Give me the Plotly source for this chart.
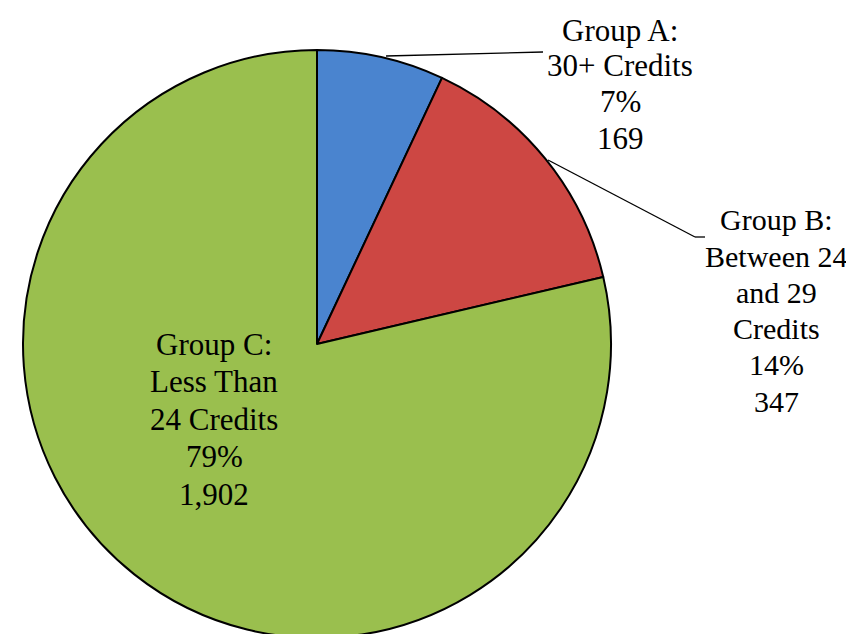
import plotly.graph_objects as go

# data
group_lines = [
    ["Group A:", "30+ Credits"],
    ["Group B:", "Between 24", "and 29", "Credits"],
    ["Group C:", "Less Than", "24 Credits"],
]
counts = [169, 347, 1902]
pct_labels = ["7%", "14%", "79%"]
count_labels = ["169", "347", "1,902"]
colors = ["#4A84CF", "#CD4743", "#9ABF4E"]

W, H = 854, 634


def px(x, y):
    return x / W, 1 - y / H


fig = go.Figure()
fig.add_trace(go.Pie(
    values=counts,
    labels=["A", "B", "C"],
    sort=False,
    direction="clockwise",
    rotation=0,
    textinfo="none",
    hoverinfo="skip",
    marker=dict(colors=colors, line=dict(color="black", width=2)),
    domain=dict(x=[15 / W, 603 / W], y=[4 / H, 592 / H]),
    showlegend=False,
))

# label blocks: centre x, first line y, line step (pixels), font size
label_pos = [(612, 22, 36, 31), (768, 212, 36.2, 30), (206, 336, 37.5, 31)]
for lines, p, c, (lx, ly, step, fs) in zip(group_lines, pct_labels, count_labels, label_pos):
    for i, t in enumerate(lines + [p, c]):
        x, y = px(lx, ly + i * step)
        fig.add_annotation(
            x=x, y=y, xref="paper", yref="paper",
            xanchor="center", yanchor="middle",
            text=t, showarrow=False,
            font=dict(family="Liberation Serif, Times New Roman, serif", size=fs, color="black"),
        )

# leader lines
leaders = [
    [(378, 48), (535, 44)],
    [(540, 152), (687, 229), (697, 229)],
]
for pts in leaders:
    for (x0, y0), (x1, y1) in zip(pts[:-1], pts[1:]):
        a0, b0 = px(x0, y0)
        a1, b1 = px(x1, y1)
        fig.add_shape(type="line", xref="paper", yref="paper",
                      x0=a0, y0=b0, x1=a1, y1=b1,
                      line=dict(color="black", width=1.3))

fig.update_layout(
    width=W, height=H,
    margin=dict(l=0, r=0, t=0, b=0),
    paper_bgcolor="white",
    plot_bgcolor="white",
)

fig.write_html("out.html")
